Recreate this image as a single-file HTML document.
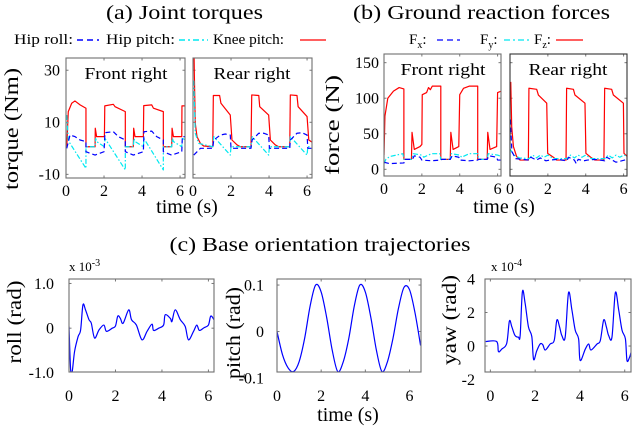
<!DOCTYPE html>
<html><head><meta charset="utf-8"><style>
html,body{margin:0;padding:0;background:#fff;}
svg{display:block;}
svg, svg text, svg tspan{font-family:"Liberation Serif","Times New Roman",Times,serif;}
</style></head><body>
<svg id="fig" width="632" height="438" viewBox="0 0 632 438" xmlns="http://www.w3.org/2000/svg" font-family="Liberation Serif, serif">
<rect x="0" y="0" width="632" height="438" fill="#fff"/>
<text x="106" y="19" font-size="20" textLength="157" lengthAdjust="spacingAndGlyphs">(a)  Joint torques</text>
<text x="353" y="19" font-size="20" textLength="257" lengthAdjust="spacingAndGlyphs">(b) Ground reaction forces</text>
<g font-size="15">
 <text x="14" y="44" textLength="59" lengthAdjust="spacingAndGlyphs">Hip roll:</text>
 <line x1="77" y1="40" x2="99" y2="40" stroke="#0000ff" stroke-width="1.5" stroke-dasharray="6,4"/>
 <text x="106" y="44" textLength="69" lengthAdjust="spacingAndGlyphs">Hip pitch:</text>
 <line x1="179" y1="40" x2="208" y2="40" stroke="#00e8f0" stroke-width="1.5" stroke-dasharray="6,3,2,3"/>
 <text x="213" y="44" textLength="71" lengthAdjust="spacingAndGlyphs">Knee pitch:</text>
 <line x1="300" y1="40" x2="326" y2="40" stroke="#ff0000" stroke-width="1.3"/>
</g>
<g font-size="15">
 <text x="409" y="44">F<tspan font-size="10" dy="4">x</tspan><tspan dy="-4">:</tspan></text>
 <line x1="437" y1="40" x2="460" y2="40" stroke="#0000ff" stroke-width="1.2" stroke-dasharray="6,4"/>
 <text x="480" y="44">F<tspan font-size="10" dy="4">y</tspan><tspan dy="-4">:</tspan></text>
 <line x1="504" y1="40" x2="530" y2="40" stroke="#00e8f0" stroke-width="1.2" stroke-dasharray="6,3,2,3"/>
 <text x="534" y="44">F<tspan font-size="10" dy="4">z</tspan><tspan dy="-4">:</tspan></text>
 <line x1="556" y1="40" x2="583" y2="40" stroke="#ff0000" stroke-width="1.2"/>
</g>
<text transform="translate(18,129) rotate(-90)" font-size="19.5" text-anchor="middle" textLength="122" lengthAdjust="spacingAndGlyphs">torque (Nm)</text>
<text transform="translate(339,125) rotate(-90)" font-size="19.5" text-anchor="middle" textLength="100" lengthAdjust="spacingAndGlyphs">force (N)</text>
<text x="187" y="213" font-size="20" text-anchor="middle">time (s)</text>
<text x="504" y="213" font-size="20" text-anchor="middle">time (s)</text>
<text x="320" y="251" font-size="20" text-anchor="middle" textLength="301" lengthAdjust="spacingAndGlyphs">(c) Base orientation trajectories</text>
<text x="69" y="271" font-size="13">x 10<tspan font-size="10" dy="-5">-3</tspan></text>
<text x="491" y="271" font-size="13">x 10<tspan font-size="10" dy="-5">-4</tspan></text>
<text transform="translate(21,322) rotate(-90)" font-size="19.5" text-anchor="middle" textLength="83" lengthAdjust="spacingAndGlyphs">roll (rad)</text>
<text transform="translate(240,333) rotate(-90)" font-size="19.5" text-anchor="middle" textLength="92" lengthAdjust="spacingAndGlyphs">pitch (rad)</text>
<text transform="translate(456,320) rotate(-90)" font-size="19.5" text-anchor="middle" textLength="90" lengthAdjust="spacingAndGlyphs">yaw  (rad)</text>
<text x="348" y="421" font-size="20" text-anchor="middle">time (s)</text>
</svg>
<script>
// ---------- data ----------
const timeTicks = [0, 2, 4, 6];
const torqueTicks = [30, 10, -10];
const forceTicks = [150, 100, 50, 0];
const rollTicks = [1.0, 0, -1.0];
const rollTickLabels = ["1.0", "0", "-1.0"];
const pitchTicks = [0.1, 0, -0.1];
const pitchTickLabels = ["0.1", "0", "-0.1"];
const yawTicks = [4, 2, 0, -2];

// (a) front right torques [time, Nm]
const frKnee = [[0.04,0.6],[0.12,14.1],[0.3,17.3],[0.47,18.2],[0.74,16.7],[1.05,15.4],[1.05,0.6],[1.53,0.6],[1.54,7.7],[1.61,4.5],[2.02,4.5],[2.04,16.3],[2.49,16.9],[2.58,16],[3.12,14.1],[3.12,0.6],[3.54,0.6],[3.56,7.7],[3.63,4.5],[4.07,4.5],[4.09,16.4],[4.51,16.7],[4.6,15.4],[5.12,14.1],[5.12,0.6],[5.56,0.6],[5.58,7.7],[5.65,4.5],[6.09,4.5],[6.1,16.3],[6.3,16.3]];
const frHipPitch = [[0.04,12.8],[0.12,3.2],[0.21,1.9],[1.05,-7.7],[1.05,0.6],[1.53,0.6],[1.56,3.8],[1.61,2.6],[2.02,0.6],[2.05,3.8],[3.12,-8.3],[3.12,0.6],[3.54,0.6],[3.58,3.8],[3.63,2.6],[4.07,0.6],[4.1,3.8],[5.12,-8.3],[5.12,0.6],[5.56,0.6],[5.6,3.8],[5.65,2.6],[6.09,0.6],[6.12,3.8],[6.3,3.2]];
const frHipRoll = [[0.04,0],[0.21,5.1],[0.47,4.5],[0.74,3.2],[1.05,2.6],[1.05,-1.3],[1.53,-2.6],[2.0,-1.3],[2.05,6.0],[2.49,6.4],[2.75,4.5],[3.12,3.2],[3.12,-1.3],[3.54,-2.6],[4.07,-1.3],[4.1,6.4],[4.51,6.6],[4.77,4.5],[5.12,3.2],[5.12,-1.3],[5.56,-2.6],[6.09,-1.3],[6.12,4.5],[6.3,4.5]];
// (a) rear right torques
const rrKnee = [[0.04,44.6],[0.07,28.6],[0.12,9.6],[0.21,4.5],[0.39,1.9],[0.56,0.9],[1.04,0.6],[1.07,20.3],[1.4,20.3],[1.47,17.3],[1.96,12.8],[2.05,3.2],[2.32,1.3],[2.49,0.6],[3.05,0.6],[3.09,20.5],[3.46,20.3],[3.51,16],[3.98,12.8],[4.07,3.2],[4.33,1.3],[4.51,0.6],[5.09,0.6],[5.12,20.5],[5.47,20.3],[5.53,16],[6.0,12.2],[6.09,3.2],[6.3,2.2]];
const rrHipPitch = [[0.04,26],[0.12,5.8],[0.3,1.9],[1.04,0.6],[1.09,4.5],[1.96,-2.6],[2.0,0.6],[3.05,0.6],[3.11,4.5],[3.98,-2.6],[4.02,0.6],[5.09,0.6],[5.12,4.5],[6.0,-2.6],[6.04,0.6],[6.3,0.6]];
const rrHipRoll = [[0.04,-2.6],[0.39,0],[1.04,0],[1.09,3.2],[1.44,5.1],[1.7,5.5],[1.96,5.1],[2.0,0],[3.05,0],[3.11,3.2],[3.46,5.8],[3.72,5.8],[3.98,5.1],[4.02,0],[5.09,0],[5.12,3.2],[5.47,5.8],[5.74,6.0],[6.0,5.1],[6.04,0],[6.3,0]];

// (b) front right forces [time, N]
const frFz = [[0,20],[0.05,75],[0.2,100],[0.5,110],[0.8,115],[1.05,113],[1.05,14],[1.45,14],[1.48,52],[1.6,28],[1.9,32],[2.0,35],[2.02,105],[2.25,108],[2.35,115],[2.45,112],[2.55,117],[3.0,117],[3.0,14],[3.5,14],[3.53,52],[3.65,28],[3.95,32],[4.0,105],[4.2,114],[4.5,117],[4.95,117],[4.95,14],[5.45,14],[5.48,52],[5.6,28],[5.95,32],[6.0,108],[6.2,110]];
const frFx = [[0,10],[0.3,8],[1.05,9],[1.1,14],[1.5,14],[1.6,19],[1.9,17],[2.0,13],[2.5,12],[3.0,13],[3.05,14],[3.5,14],[3.6,19],[3.95,17],[4.0,13],[4.5,12],[4.95,13],[5.0,14],[5.45,14],[5.55,19],[5.95,17],[6.0,13],[6.2,13]];
const frFy = [[0,8],[0.1,14],[0.3,18],[1.0,22],[1.05,14],[1.45,14],[1.55,22],[2.0,20],[2.1,17],[2.5,22],[2.95,22],[3.0,14],[3.5,14],[3.55,22],[4.0,20],[4.1,17],[4.5,22],[4.95,22],[5.0,14],[5.45,14],[5.5,22],[6.0,20],[6.2,18]];
// (b) rear right forces
const rrFz = [[0.04,123],[0.09,60],[0.18,32],[0.35,18],[0.53,13],[0.97,13],[1.0,114],[1.41,112.5],[1.5,104.5],[1.94,93],[1.99,22.5],[2.29,17],[2.46,13],[2.96,13],[2.99,114],[3.35,112.5],[3.43,104.5],[3.96,93],[4.01,22.5],[4.26,17],[4.49,13],[4.96,13],[5.0,114],[5.37,112.5],[5.46,104.5],[5.99,93],[6.02,22.5],[6.2,18]];
const rrFx = [[0.02,70],[0.1,25],[0.3,15],[1.0,13],[1.1,17],[1.4,13],[1.6,16],[1.9,12],[2.1,13],[2.5,14],[3.0,12],[3.1,17],[3.4,13],[3.5,8],[3.6,14],[3.9,12],[4.1,13],[4.5,14],[5.0,12],[5.1,17],[5.4,13],[5.6,10],[5.9,12],[6.2,14]];
const rrFy = [[0.02,28],[0.2,20],[0.5,16],[1.0,15],[1.2,20],[1.4,16],[1.6,20],[1.8,17],[2.0,20],[2.3,15],[3.0,15],[3.2,20],[3.4,16],[3.6,20],[3.8,17],[4.0,20],[4.3,15],[5.0,15],[5.2,20],[5.4,16],[5.6,20],[5.8,17],[6.0,20],[6.2,19]];

// (c) base orientation
const rollData = [[0.0,0.04],[0.07,-0.93],[0.14,-0.96],[0.24,-0.52],[0.39,-0.19],[0.5,-0.04],[0.6,0.52],[0.71,0.41],[0.86,0.19],[0.96,0.11],[1.1,-0.22],[1.29,-0.04],[1.5,0.07],[1.61,-0.07],[1.86,0],[2.0,0.05],[2.1,0.27],[2.21,0.22],[2.33,0.11],[2.57,0.41],[2.69,0.19],[2.9,0.07],[3.14,-0.26],[3.36,-0.07],[3.57,0.09],[3.64,-0.05],[3.86,0],[4.07,0.07],[4.14,0.3],[4.36,0.22],[4.43,0.15],[4.57,0.41],[4.79,0.19],[5.0,0.04],[5.14,-0.26],[5.36,-0.07],[5.5,0.07],[5.61,-0.05],[5.81,0.01],[6.0,0.07],[6.1,0.27],[6.24,0.19]];
const pitchTime = [0,0.25,0.5,0.75,1.0,1.25,1.5,1.75,2.0,2.25,2.5,2.75,3.0,3.25,3.5,3.75,4.0,4.25,4.5,4.75,5.0,5.25,5.5,5.75,6.0,6.25,6.5];
const pitchValue = [0,-0.05,-0.078,-0.086,-0.065,-0.015,0.055,0.1,0.085,0.03,-0.04,-0.086,-0.065,-0.015,0.055,0.1,0.085,0.03,-0.04,-0.086,-0.065,-0.015,0.05,0.095,0.09,0.04,-0.03];
const yawData = [[-0.21,0.27],[0.28,0.27],[0.36,-0.33],[0.51,-0.18],[0.73,0.16],[0.85,1.49],[0.96,1.14],[1.1,0.63],[1.25,0.53],[1.33,0.63],[1.43,3.24],[1.55,2.57],[1.7,1.14],[1.85,0.57],[1.93,-0.8],[2.07,-0.29],[2.22,0.12],[2.34,0.08],[2.45,-0.24],[2.67,0.12],[2.85,0.33],[2.97,1.55],[3.09,1.14],[3.19,0.63],[3.34,0.53],[3.49,3.18],[3.64,2.16],[3.79,0.94],[3.94,0.43],[4.01,-0.86],[4.24,-0.18],[4.39,0.12],[4.49,-0.24],[4.76,0.12],[4.91,0.33],[5.06,1.55],[5.18,1.14],[5.28,0.63],[5.43,0.53],[5.58,3.18],[5.73,2.16],[5.88,0.94],[6.03,0.43],[6.1,-0.86],[6.21,-0.69],[6.28,-0.39]];

// ---------- drawing ----------
const NS = "http://www.w3.org/2000/svg";
const svg = document.getElementById("fig");
const BLUE = "#0000ff", CYAN = "#00e8f0", RED = "#ff0000";
let clipId = 0;

function mk(tag, attrs, parent) {
  const e = document.createElementNS(NS, tag);
  for (const k in attrs) e.setAttribute(k, attrs[k]);
  (parent || svg).appendChild(e);
  return e;
}
function smoothPath(pts) {
  let d = "M" + pts[0][0].toFixed(2) + "," + pts[0][1].toFixed(2);
  for (let i = 0; i < pts.length - 1; i++) {
    const p0 = pts[Math.max(0, i - 1)], p1 = pts[i], p2 = pts[i + 1], p3 = pts[Math.min(pts.length - 1, i + 2)];
    const c1x = p1[0] + (p2[0] - p0[0]) / 6, c1y = p1[1] + (p2[1] - p0[1]) / 6;
    const c2x = p2[0] - (p3[0] - p1[0]) / 6, c2y = p2[1] - (p3[1] - p1[1]) / 6;
    d += " C" + c1x.toFixed(2) + "," + c1y.toFixed(2) + " " + c2x.toFixed(2) + "," + c2y.toFixed(2) + " " + p2[0].toFixed(2) + "," + p2[1].toFixed(2);
  }
  return d;
}

function panel(c) {
  const g = mk("g", {});
  
  
  const sx = v => c.x0 + (v - c.xd[0]) / (c.xd[1] - c.xd[0]) * (c.x1 - c.x0);
  const sy = v => c.y1 - (v - c.yd[0]) / (c.yd[1] - c.yd[0]) * (c.y1 - c.y0);
  const id = "clip" + (clipId++);
  const cp = mk("clipPath", { id: id }, g);
  mk("rect", { x: c.x0, y: c.y0, width: c.x1 - c.x0, height: c.y1 - c.y0 }, cp);
  c.xticks.forEach(t => {
    const x = sx(t);
    if (t > c.xd[0] + 0.05) {
      mk("line", { x1: x, y1: c.y0, x2: x, y2: c.y0 + 2.5, stroke: "#777", "stroke-width": 1 }, g);
      mk("line", { x1: x, y1: c.y1, x2: x, y2: c.y1 - 2.5, stroke: "#777", "stroke-width": 1 }, g);
    }
    const tl = mk("text", { x: x, y: c.y1 + c.xlabOff, "font-size": c.fs, "text-anchor": "middle" }, g);
    
    
    tl.textContent = String(t);
  });
  c.yticks.forEach((t, i) => {
    const y = sy(t);
    if (y > c.y0 + 2 && y < c.y1 - 2) {
      mk("line", { x1: c.x0, y1: y, x2: c.x0 + 2.5, y2: y, stroke: "#777", "stroke-width": 1 }, g);
      mk("line", { x1: c.x1, y1: y, x2: c.x1 - 2.5, y2: y, stroke: "#777", "stroke-width": 1 }, g);
    }
    if (c.showY) {
      const tl = mk("text", { x: c.x0 - c.ylabGap, y: y + c.fs * 0.33, "font-size": c.fs, "text-anchor": "end" }, g);
      
      
      tl.textContent = c.ylabels ? c.ylabels[i] : String(t);
    }
  });
  const sg = mk("g", { "clip-path": "url(#" + id + ")" }, g);
  c.series.forEach(s => {
    const pts = s.data.map(p => [sx(p[0]), sy(p[1])]);
    const attrs = { fill: "none", stroke: s.color, "stroke-width": s.w || 1.2, "stroke-linejoin": "round" };
    if (s.dash) attrs["stroke-dasharray"] = s.dash;
    let el;
    if (c.smooth) { attrs.d = smoothPath(pts); el = mk("path", attrs, sg); }
    else { attrs.points = pts.map(p => p[0].toFixed(2) + "," + p[1].toFixed(2)).join(" "); el = mk("polyline", attrs, sg); }
    
    
  });
  const fr = mk("rect", { x: c.x0, y: c.y0, width: c.x1 - c.x0, height: c.y1 - c.y0, fill: "none", stroke: c.frame || "#707070", "stroke-width": 1.1 }, g);
  
  
  if (c.label) {
    const lt = mk("text", { x: c.labelX, y: c.y0 + 21, "font-size": 17, "text-anchor": "middle", textLength: c.labelW, lengthAdjust: "spacingAndGlyphs" }, g);
    
    
    lt.textContent = c.label;
  }
}

const pitchData = pitchTime.map((t, i) => [t, pitchValue[i]]);

panel({ name: "torque-front-right-plot", x0: 66, x1: 185, y0: 58, y1: 178, xd: [0, 6.26], yd: [-11.4, 34.7], xticks: timeTicks, yticks: torqueTicks, showY: true, ylabGap: 6, xlabOff: 18, fs: 16, label: "Front right", labelX: 126, labelW: 83,
  series: [{ name: "knee-pitch-line-fr", data: frKnee, color: RED }, { name: "hip-pitch-line-fr", data: frHipPitch, color: CYAN, dash: "5,2,1.5,2" }, { name: "hip-roll-line-fr", data: frHipRoll, color: BLUE, dash: "5,3" }] });
panel({ name: "torque-rear-right-plot", x0: 193, x1: 312, y0: 58, y1: 178, xd: [0, 6.26], yd: [-11.4, 34.7], xticks: timeTicks, yticks: torqueTicks, showY: false, ylabGap: 6, xlabOff: 18, fs: 16, label: "Rear right", labelX: 252, labelW: 77,
  series: [{ name: "knee-pitch-line-rr", data: rrKnee, color: RED }, { name: "hip-pitch-line-rr", data: rrHipPitch, color: CYAN, dash: "5,2,1.5,2" }, { name: "hip-roll-line-rr", data: rrHipRoll, color: BLUE, dash: "5,3" }] });
panel({ name: "force-front-right-plot", x0: 384, x1: 501, y0: 54, y1: 176, xd: [0, 6.18], yd: [-9.4, 162.2], xticks: timeTicks, yticks: forceTicks, showY: true, ylabGap: 5, xlabOff: 18, fs: 16, label: "Front right", labelX: 443, labelW: 85,
  series: [{ name: "fz-line-fr", data: frFz, color: RED }, { name: "fy-line-fr", data: frFy, color: CYAN, dash: "5,2,1.5,2" }, { name: "fx-line-fr", data: frFx, color: BLUE, dash: "5,3" }] });
panel({ name: "force-rear-right-plot", x0: 510, x1: 627, y0: 54, y1: 176, xd: [0, 6.18], yd: [-9.4, 162.2], xticks: timeTicks, yticks: forceTicks, showY: false, ylabGap: 5, xlabOff: 18, fs: 16, label: "Rear right", labelX: 568, labelW: 79, frame: "#333",
  series: [{ name: "fz-line-rr", data: rrFz, color: RED }, { name: "fy-line-rr", data: rrFy, color: CYAN, dash: "5,2,1.5,2" }, { name: "fx-line-rr", data: rrFx, color: BLUE, dash: "5,3" }] });
panel({ name: "roll-plot", x0: 69, x1: 214, y0: 279, y1: 372, xd: [0, 6.24], yd: [-0.98, 1.1], xticks: timeTicks, yticks: rollTicks, ylabels: rollTickLabels, showY: true, ylabGap: 15, xlabOff: 29, fs: 16, smooth: true,
  series: [{ name: "roll-line", data: rollData, color: BLUE }] });
panel({ name: "pitch-plot", x0: 277, x1: 421, y0: 279, y1: 372, xd: [0, 6.52], yd: [-0.087, 0.113], xticks: timeTicks, yticks: pitchTicks, ylabels: pitchTickLabels, showY: true, ylabGap: 13, xlabOff: 29, fs: 16, smooth: true,
  series: [{ name: "pitch-line", data: pitchData, color: BLUE }] });
panel({ name: "yaw-plot", x0: 485, x1: 631, y0: 279, y1: 372, xd: [-0.24, 6.28], yd: [-1.55, 4.0], xticks: timeTicks, yticks: yawTicks, showY: true, ylabGap: 10, xlabOff: 29, fs: 16, smooth: true,
  series: [{ name: "yaw-line", data: yawData, color: BLUE }] });
</script>
</body></html>
